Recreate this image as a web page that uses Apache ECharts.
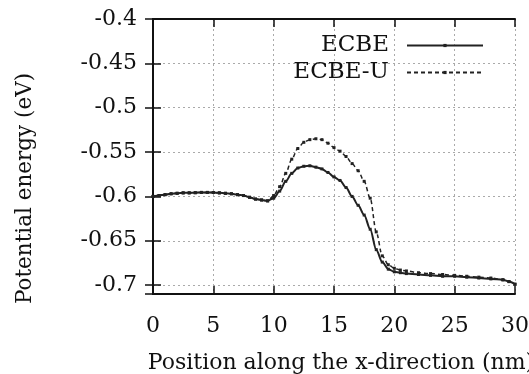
<!DOCTYPE html>
<html>
<head>
<meta charset="utf-8">
<script src="https://cdn.jsdelivr.net/npm/echarts@6/dist/echarts.min.js"></script>
<style>
  html, body { margin: 0; padding: 0; background: #fff; }
  #chart { width: 529px; height: 374px; }
</style>
</head>
<body>
<div id="chart"></div>
<script>
// position along x (nm)
const xPos = [
  0, 0.5, 1, 1.5, 2, 2.5, 3, 3.5, 4, 4.5, 5, 5.5, 6, 6.5, 7, 7.5, 8, 8.5, 9, 9.5,
  10, 10.5, 11, 11.5, 12, 12.5, 13, 13.5, 14, 14.5, 15, 15.5, 16, 16.5, 17, 17.5,
  18, 18.5, 19, 19.5, 20, 20.5, 21, 22, 23, 24, 25, 26, 27, 28, 29, 29.5, 30
];

// potential energy (eV)
const ecbe = [
  -0.600, -0.599, -0.598, -0.597, -0.5965, -0.596, -0.596, -0.5958, -0.5955, -0.5955,
  -0.5956, -0.596, -0.5965, -0.597, -0.598, -0.599, -0.601, -0.603, -0.604, -0.605,
  -0.602, -0.594, -0.583, -0.574, -0.568, -0.566, -0.5655, -0.567, -0.569, -0.573,
  -0.578, -0.582, -0.590, -0.600, -0.610, -0.621, -0.637, -0.660, -0.674, -0.682,
  -0.685, -0.686, -0.687, -0.688, -0.689, -0.690, -0.690, -0.691, -0.692, -0.693,
  -0.694, -0.696, -0.699
];

const ecbeU = [
  -0.600, -0.599, -0.598, -0.597, -0.5965, -0.596, -0.596, -0.5958, -0.5955, -0.5955,
  -0.5956, -0.596, -0.5965, -0.597, -0.598, -0.599, -0.601, -0.603, -0.604, -0.605,
  -0.599, -0.589, -0.574, -0.558, -0.546, -0.539, -0.536, -0.535, -0.536, -0.540,
  -0.545, -0.549, -0.555, -0.563, -0.571, -0.583, -0.602, -0.640, -0.667, -0.677,
  -0.681, -0.683, -0.684, -0.686, -0.687, -0.688, -0.689, -0.690, -0.691, -0.692,
  -0.694, -0.696, -0.699
];

const seriesNames = ['ECBE', 'ECBE-U'];

const FONT = 'DejaVu Serif';
const INK = '#111';

let chart = echarts.init(document.getElementById('chart'));

const pairs = (ys) => xPos.map((x, i) => [x, ys[i]]);

const frameX = {
  type: 'value', min: 0, max: 30, interval: 5,
  axisLine: { show: true, lineStyle: { color: INK, width: 2 } },
  axisTick: { show: true, inside: true, length: 8, lineStyle: { color: INK, width: 1.5 } },
  splitLine: { show: false },
  axisLabel: { show: false }
};
const frameY = {
  type: 'value', min: -0.71, max: -0.4, splitNumber: 6,
  axisLine: { show: true, lineStyle: { color: INK, width: 2 } },
  axisTick: { show: true, inside: true, length: 8, lineStyle: { color: INK, width: 1.5 } },
  splitLine: { show: false },
  axisLabel: { show: false }
};

chart.setOption({
  animation: false,
  backgroundColor: '#fff',
  grid: { left: 153, right: 14, top: 19, bottom: 80, outerBoundsMode: 'none' },
  legend: {
    data: seriesNames,
    orient: 'vertical',
    right: 40,
    top: 28,
    align: 'right',
    itemWidth: 76,
    itemHeight: 4,
    itemGap: 2,
    textStyle: { fontFamily: FONT, fontSize: 23, lineHeight: 25, color: INK, padding: [0, 13, 0, 0] }
  },
  xAxis: [
    Object.assign({}, frameX, {
      position: 'bottom',
      name: 'Position along the x-direction (nm)',
      nameLocation: 'middle',
      nameGap: 58,
      nameTextStyle: { fontFamily: FONT, fontSize: 22, color: INK, padding: [0, 0, 0, 14] },
      splitLine: { show: true, lineStyle: { color: '#aaa', type: [2, 3], width: 1 } },
      axisLabel: { show: true, margin: 21, fontFamily: FONT, fontSize: 22, color: INK }
    }),
    Object.assign({}, frameX, { position: 'top' })
  ],
  yAxis: [
    Object.assign({}, frameY, {
      position: 'left',
      name: 'Potential energy (eV)',
      nameLocation: 'middle',
      nameGap: 117,
      nameTextStyle: { fontFamily: FONT, fontSize: 21.5, color: INK, padding: [0, 64, 0, 0] },
      splitLine: { show: true, lineStyle: { color: '#aaa', type: [2, 3], width: 1 } },
      axisLabel: { show: true, showMinLabel: false, margin: 16, padding: [5, 0, 0, 0], fontFamily: FONT, fontSize: 22, color: INK }
    }),
    Object.assign({}, frameY, { position: 'right' })
  ],
  series: [
    {
      name: seriesNames[0],
      type: 'line',
      data: pairs(ecbe),
      smooth: 0.3,
      smoothMonotone: 'x',
      symbol: 'rect',
      symbolSize: 3,
      showAllSymbol: true,
      lineStyle: { color: '#222', width: 2 },
      itemStyle: { color: '#222' }
    },
    {
      name: seriesNames[1],
      type: 'line',
      data: pairs(ecbeU),
      smooth: 0.3,
      smoothMonotone: 'x',
      symbol: 'rect',
      symbolSize: 3,
      showAllSymbol: true,
      lineStyle: { color: '#222', width: 1.5, type: [4, 3] },
      itemStyle: { color: '#222' }
    }
  ]
});
</script>
</body>
</html>
